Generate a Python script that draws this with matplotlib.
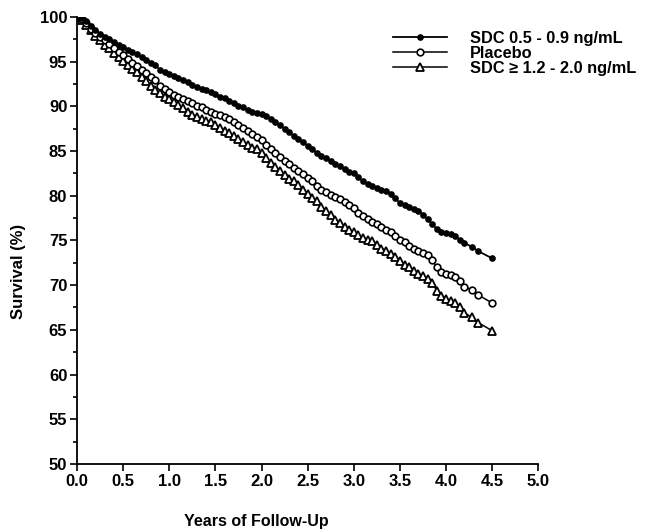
"""Survival by serum digoxin concentration group."""
import matplotlib; matplotlib.use("Agg")
import matplotlib.pyplot as plt
from matplotlib.ticker import MultipleLocator

plt.rcParams["font.family"] = ["Liberation Sans", "DejaVu Sans"]
plt.rcParams["font.weight"] = "bold"

# (years, survival %)
years = [0, 0.05, 0.1, 0.15, 0.2, 0.25, 0.3, 0.35, 0.4, 0.45, 0.5, 0.55, 0.6, 0.65, 0.7,
         0.75, 0.8, 0.85, 0.9, 0.95, 1.0, 1.05, 1.1, 1.15, 1.2, 1.25, 1.3, 1.35, 1.4, 1.45,
         1.5, 1.55, 1.6, 1.65, 1.7, 1.75, 1.8, 1.85, 1.9, 1.95, 2.0, 2.05, 2.1, 2.15, 2.2,
         2.25, 2.3, 2.35, 2.4, 2.45, 2.5, 2.55, 2.6, 2.65, 2.7, 2.75, 2.8, 2.85, 2.9, 2.95,
         3.0, 3.05, 3.1, 3.15, 3.2, 3.25, 3.3, 3.35, 3.4, 3.45, 3.5, 3.55, 3.6, 3.65, 3.7,
         3.75, 3.8, 3.85, 3.9, 3.95, 4.0, 4.05, 4.1, 4.15, 4.2, 4.28, 4.35, 4.5]

sdc_low = [100, 99.9, 99.5, 99.0, 98.5, 98.1, 97.8, 97.5, 97.2, 96.9, 96.6, 96.3, 96.1, 95.9,
           95.5, 95.2, 94.9, 94.6, 94.1, 93.8, 93.6, 93.4, 93.2, 92.9, 92.7, 92.4, 92.2, 92.0,
           91.8, 91.6, 91.4, 91.1, 90.9, 90.6, 90.4, 90.1, 89.9, 89.6, 89.4, 89.3, 89.1, 88.9,
           88.6, 88.2, 87.9, 87.5, 87.1, 86.7, 86.3, 86.0, 85.6, 85.2, 84.8, 84.5, 84.2, 83.9,
           83.6, 83.3, 83.0, 82.7, 82.5, 82.1, 81.6, 81.3, 81.1, 80.9, 80.7, 80.5, 80.2, 79.7,
           79.2, 79.0, 78.7, 78.5, 78.3, 77.9, 77.4, 76.8, 76.3, 76.0, 75.8, 75.7, 75.5, 75.0,
           74.7, 74.3, 73.8, 73.0]

placebo = [100, 99.8, 99.3, 98.7, 98.2, 97.8, 97.4, 97.0, 96.5, 96.1, 95.7, 95.3, 94.9, 94.5,
           94.1, 93.7, 93.3, 92.9, 92.3, 91.9, 91.6, 91.3, 91.0, 90.8, 90.6, 90.4, 90.1, 89.9,
           89.6, 89.4, 89.2, 89.0, 88.8, 88.6, 88.3, 87.9, 87.6, 87.2, 86.9, 86.6, 86.2, 85.7,
           85.2, 84.8, 84.3, 83.9, 83.5, 83.1, 82.8, 82.4, 82.0, 81.6, 81.1, 80.7, 80.4, 80.1,
           79.9, 79.6, 79.3, 79.0, 78.6, 78.1, 77.7, 77.4, 77.1, 76.8, 76.5, 76.2, 75.9, 75.5,
           75.1, 74.8, 74.4, 74.1, 73.8, 73.6, 73.4, 72.8, 72.0, 71.5, 71.3, 71.1, 70.9, 70.5,
           69.8, 69.5, 68.9, 68.0]

sdc_high = [100, 99.7, 99.1, 98.5, 97.9, 97.4, 96.9, 96.5, 96.0, 95.5, 95.1, 94.6, 94.2, 93.8,
            93.3, 92.8, 92.3, 91.8, 91.5, 91.1, 90.8, 90.5, 90.2, 89.8, 89.4, 89.0, 88.8, 88.6,
            88.4, 88.2, 87.9, 87.6, 87.3, 87.0, 86.7, 86.3, 86.0, 85.7, 85.4, 85.2, 84.8, 84.2,
            83.7, 83.2, 82.8, 82.3, 81.9, 81.6, 81.2, 80.7, 80.2, 79.8, 79.4, 78.8, 78.3, 77.8,
            77.3, 76.9, 76.5, 76.2, 75.9, 75.6, 75.3, 75.1, 74.9, 74.5, 74.1, 73.8, 73.5, 73.1,
            72.7, 72.3, 72.0, 71.6, 71.2, 71.0, 70.7, 70.2, 69.4, 68.8, 68.5, 68.2, 68.0, 67.5,
            66.9, 66.4, 65.8, 64.9]

fig = plt.figure(figsize=(6.47, 5.32), dpi=100)
ax = fig.add_axes([0.119, 0.128, 0.713, 0.84])

ax.plot(years, sdc_high, color="black", lw=1.1, marker="^", ms=5.2, mfc="white",
        mec="black", mew=1.3, label="SDC \u2265 1.2 - 2.0 ng/mL", zorder=3)
ax.plot(years, placebo, color="black", lw=1.1, marker="o", ms=4.8, mfc="white",
        mec="black", mew=1.2, label="Placebo", zorder=4)
ax.plot(years, sdc_low, color="black", lw=1.3, marker="o", ms=3.8, mfc="black",
        mec="black", label="SDC 0.5 - 0.9 ng/mL", zorder=5)

ax.set_xlim(0, 5)
ax.set_ylim(50, 100)
ax.xaxis.set_major_locator(MultipleLocator(0.5))
ax.yaxis.set_major_locator(MultipleLocator(5))
ax.yaxis.set_minor_locator(MultipleLocator(2.5))
ax.xaxis.set_major_formatter(plt.FuncFormatter(lambda v, p: f"{v:.1f}"))
ax.yaxis.set_major_formatter(plt.FuncFormatter(lambda v, p: f"{v:.0f}"))
for s in ("top", "right"):
    ax.spines[s].set_visible(False)
for s in ("left", "bottom"):
    ax.spines[s].set_linewidth(1.3)
ax.tick_params(axis="both", which="major", length=5, width=1.2, labelsize=12, pad=2)
ax.tick_params(axis="y", which="minor", length=3, width=1.2)
for lab in ax.get_xticklabels() + ax.get_yticklabels():
    lab.set_fontweight("bold")

fig.text(0.396, 0.006, "Years of Follow-Up", ha="center", va="bottom",
         fontsize=11.5, fontweight="bold")
fig.text(0.028, 0.49, "Survival (%)", ha="center", va="center", rotation=90,
         fontsize=12, fontweight="bold")

h, l = ax.get_legend_handles_labels()
ax.legend(h[::-1], l[::-1], loc="upper left", bbox_to_anchor=(0.595, 0.958),
          bbox_transform=fig.transFigure, frameon=False,
          handlelength=3.3, handletextpad=1.4, labelspacing=0.0, borderpad=0,
          prop={"weight": "bold", "size": 11.8})

fig.savefig("out.png", dpi=100)
